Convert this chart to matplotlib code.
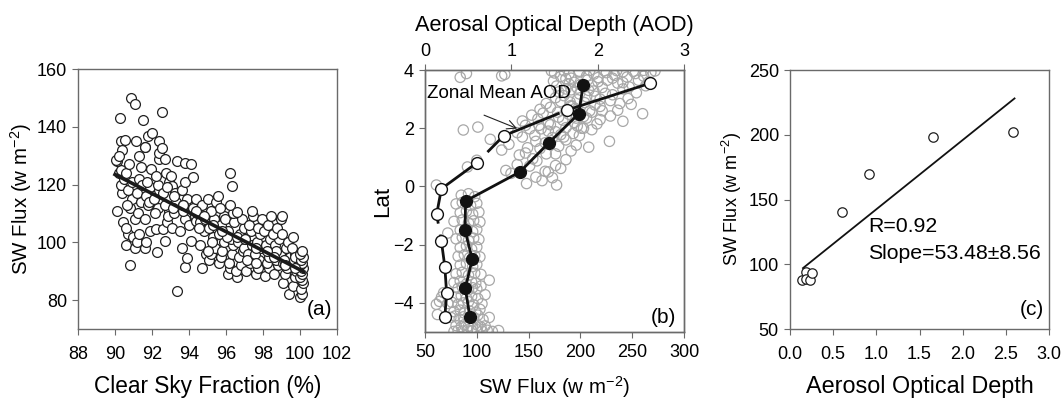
import numpy as np
import matplotlib
matplotlib.use("Agg")
import matplotlib.pyplot as plt

plt.rcParams['font.family'] = ['Liberation Sans', 'DejaVu Sans']
plt.rcParams['mathtext.default'] = 'regular'

# ---- panel (a): SW flux vs clear sky fraction ----
clear_sky = [
    90.1, 90.2, 90.3, 90.1, 90.05, 90.4, 90.3, 90.5, 90.3, 90.25, 90.4, 90.45, 90.2,
    90.6, 90.7, 90.6, 90.8, 90.8, 90.9, 90.7, 90.9, 90.6, 90.75, 90.55, 90.85, 90.95, 90.65,
    91.1, 91.2, 91.3, 91.1, 91.4, 91.2, 91.3, 91.4, 91.3, 91.6, 91.15, 91.1, 91.5, 91.25, 91.45,
    91.6, 91.7, 91.9, 91.6, 91.8, 91.7, 91.9, 91.75, 91.95, 91.6, 91.8, 92.0, 91.85,
    92.25, 92.2, 92.3, 92.1, 92.4, 92.3, 92.2, 92.4, 92.35, 92.4, 92.15,
    92.7, 92.6, 92.8, 92.9, 92.7, 92.6, 92.9, 92.75, 92.7, 92.55, 92.55, 92.85,
    93.1, 93.2, 93.3, 93.1, 93.0, 93.35, 93.35, 93.25, 93.15,
    93.6, 93.5, 93.8, 93.7, 93.9, 93.6, 93.8, 93.8, 93.8, 93.9, 93.65,
    94.1, 94.0, 94.3, 94.2, 94.4, 94.2, 94.1, 94.35, 94.45,
    94.7, 94.9, 94.6, 94.8, 94.6, 94.9, 94.7, 95.0, 94.55, 94.85,
    95.1, 95.2, 95.4, 95.3, 95.1, 95.35, 95.2, 95.45, 95.25, 95.05,
    95.6, 95.7, 95.8, 95.9, 95.6, 95.75, 95.9, 95.65, 95.55, 96.2, 95.95,
    96.1, 96.2, 96.15, 96.3, 96.4, 96.25, 96.1, 96.45, 96.35, 96.2, 96.3, 96.05,
    96.6, 96.55, 96.8, 96.7, 96.9, 96.65, 96.75, 96.95, 96.85, 96.6, 96.95,
    97.1, 97.3, 97.2, 97.4, 97.05, 97.35, 97.25, 97.45, 97.4, 97.15,
    97.6, 97.7, 97.8, 97.55, 97.9, 97.65, 97.85, 97.75, 97.95, 97.6,
    98.1, 98.3, 98.2, 98.4, 98.15, 98.35, 98.05, 98.25, 98.45, 98.3,
    98.6, 98.8, 98.7, 98.9, 98.65, 98.85, 98.55, 98.75, 98.95, 98.7,
    99.4, 99.1, 99.2, 99.3, 99.1, 99.45, 99.25, 99.35, 99.0, 99.05, 99.15,
    99.6, 99.7, 99.8, 99.9, 99.65, 99.75, 99.55, 99.6, 99.95, 99.7,
    100.0, 100.1, 100.05, 100.15, 100.1, 100.0, 100.1, 100.05, 100.15, 100.0, 100.1, 100.05, 100.15, 100.0, 100.1,
    94.4, 94.8, 95.3, 95.8, 96.6, 97.0, 97.6, 98.2, 98.6, 99.2, 99.7, 93.2, 93.7, 92.8,
]
sw_a = [
    111, 124, 125, 128, 128.5, 117, 120, 122, 135, 143, 132, 107, 130,
    99, 103, 105, 92, 112, 115, 118, 121, 124, 127, 135.5, 150, 102, 113,
    98, 100, 103, 108, 114, 117, 122, 126, 130, 133, 135, 148, 142.5, 110, 120,
    98, 100, 104, 108, 113, 116, 119, 121, 125.5, 133, 137, 138, 114,
    96.5, 104.5, 112, 115, 118, 120, 123, 129, 131, 135, 110,
    100.5, 104.5, 107, 111, 113, 117, 121, 124, 129, 132.5, 145, 109,
    105, 110, 114, 119.5, 123, 128, 83, 117, 112,
    98, 104, 108, 111, 115, 118, 121, 127.5, 91.5, 94.5, 113,
    100.5, 106, 109, 112, 115, 122.5, 127, 107.5, 110,
    91, 96, 99, 104, 107, 110, 113, 115, 105, 108,
    94, 96, 98, 102, 105, 108, 111, 114, 100, 97,
    93, 95, 97, 100, 103, 106, 109, 112, 116, 124, 108,
    89, 91, 93, 96, 99, 101, 104, 107, 110, 113, 119.5, 102,
    88, 90, 92, 95, 97, 100, 103, 105, 108, 110.5, 98,
    90, 93, 96, 99, 101, 104, 106, 109, 111, 94,
    89, 91, 94, 96, 98, 100, 103, 105, 108, 93,
    88.5, 91, 93, 96, 99, 101, 104, 106, 109, 95,
    89, 92, 94, 96, 99, 101, 103, 105, 108, 97,
    82, 86, 89, 91, 93, 95, 98, 100, 103, 109, 94,
    85, 88, 90, 92, 94, 96, 98, 102, 93, 95,
    81, 82, 84, 86, 87, 88, 89, 90, 91, 92, 93, 94, 95, 96, 97,
    111, 109, 106, 104, 102, 101, 98, 97, 95, 92, 91, 116, 113, 119,
]
fit_a_x = [90.0, 100.2]
fit_a_slope = -3.3
fit_a_at90 = 123.5

# ---- panel (b): latitude profiles ----
gray_sw = [
    78, 82, 86, 91, 95, 100, 105, 110, 115, 121,
    80, 85, 88, 92, 96, 101, 104, 108,
    61, 66, 75, 79, 83, 87, 97, 101, 106, 112,
    64, 78, 84, 88, 93, 99, 103,
    62, 72, 76, 82, 87, 92, 97, 105,
    68, 80, 85, 90, 95, 101, 108,
    82, 86, 92, 96, 100, 104,
    78, 84, 90, 95, 99, 112,
    80, 86, 92, 98, 104,
    84, 90, 96, 100,
    82, 88, 93, 98, 103,
    84, 90, 95, 100,
    72, 80, 86, 92, 97, 102,
    84, 90, 96, 100,
    78, 86, 92, 97, 103,
    84, 90, 96, 102,
    80, 86, 94, 100,
    85, 92, 98, 61,
    148, 173, 163, 177,
    133, 157, 169,
    91, 128, 151, 166, 181,
    100, 139, 158, 176,
    141, 154, 167, 186,
    124, 147, 161, 176, 191, 208,
    131, 149, 166, 179, 196, 228,
    113, 144, 157, 173, 186, 199,
    139, 156, 169, 181, 193, 211,
    87, 151, 176, 201,
    101, 147, 162, 171, 186, 197, 216,
    144, 159, 169, 183, 194, 206, 219, 241,
    153, 164, 179, 189, 203, 211, 229, 260,
    161, 171, 186, 195, 209, 219, 236,
    167, 181, 191, 204, 214, 229, 249,
    176, 184, 197, 206, 219, 231, 246,
    179, 191, 199, 213, 224, 241, 254,
    177, 189, 197, 211, 221, 236, 247, 263,
    174, 186, 194, 207, 217, 231, 241, 256, 266,
    84, 124, 181, 191, 206, 217, 233, 245, 261,
    90, 127, 175, 189, 199, 213, 225, 241, 253, 268,
    172, 184, 199, 209, 223, 235, 251, 261, 272,
    160, 178, 190, 184, 196, 203, 214, 192, 208, 221, 200, 186, 226, 238,
]
gray_lat = [
    -4.98, -4.95, -4.97, -4.93, -4.96, -4.92, -4.97, -4.94, -4.98, -4.95,
    -4.78, -4.82, -4.75, -4.8, -4.85, -4.77, -4.83, -4.79,
    -4.05, -3.8, -4.5, -4.45, -4.55, -4.48, -4.52, -4.42, -4.57, -4.5,
    -3.95, -4.3, -4.25, -4.35, -4.28, -4.32, -4.22,
    -4.4, -4.02, -3.98, -4.05, -4.0, -3.96, -4.07, -4.03,
    -3.65, -3.8, -3.75, -3.83, -3.78, -3.85, -3.72,
    -3.5, -3.45, -3.55, -3.48, -3.52, -3.42,
    -3.3, -3.25, -3.35, -3.28, -3.32, -3.22,
    -3.0, -2.95, -3.05, -2.98, -3.02,
    -2.7, -2.65, -2.75, -2.68,
    -2.4, -2.35, -2.45, -2.38, -2.42,
    -2.1, -2.05, -2.15, -2.08,
    -1.6, -1.8, -1.75, -1.85, -1.78, -1.82,
    -1.5, -1.45, -1.55, -1.48,
    -1.2, -1.15, -1.25, -1.18, -1.22,
    -0.9, -0.85, -0.95, -0.88,
    -0.6, -0.55, -0.65, -0.58,
    -0.3, -0.25, -0.35, 0.05,
    0.1, 0.3, 0.2, 0.05,
    0.45, 0.32, 0.5,
    0.67, 0.55, 0.7, 0.52, 0.62,
    0.9, 0.75, 0.88, 0.72,
    1.08, 0.95, 1.12, 0.92,
    1.25, 1.15, 1.3, 1.12, 1.22, 1.35,
    1.45, 1.33, 1.5, 1.38, 1.42, 1.55,
    1.62, 1.7, 1.55, 1.68, 1.6, 1.75,
    1.85, 1.75, 1.9, 1.78, 1.82, 1.95,
    1.94, 1.98, 1.88, 2.0,
    2.04, 2.1, 1.98, 2.12, 2.02, 2.08, 2.15,
    2.25, 2.32, 2.18, 2.28, 2.2, 2.35, 2.3, 2.24,
    2.45, 2.52, 2.38, 2.48, 2.4, 2.55, 2.42, 2.5,
    2.65, 2.72, 2.58, 2.68, 2.6, 2.75, 2.62,
    2.85, 2.92, 2.78, 2.88, 2.8, 2.95, 2.82,
    3.05, 3.12, 2.98, 3.08, 3.0, 3.15, 3.02,
    3.25, 3.32, 3.18, 3.28, 3.2, 3.35, 3.22,
    3.45, 3.52, 3.38, 3.48, 3.4, 3.55, 3.42, 3.46,
    3.62, 3.7, 3.58, 3.66, 3.6, 3.72, 3.57, 3.65, 3.6,
    3.75, 3.8, 3.78, 3.72, 3.8, 3.74, 3.82, 3.76, 3.79,
    3.88, 3.85, 3.9, 3.87, 3.93, 3.86, 3.91, 3.94, 3.88, 3.92,
    3.97, 3.98, 3.96, 3.99, 3.97, 3.98, 3.96, 3.99, 3.97,
    2.1, 2.55, 2.9, 1.7, 2.35, 2.0, 3.1, 2.75, 3.3, 2.6, 3.5, 3.35, 3.65, 2.85,
]
lat_sw = [-4.5, -3.5, -2.5, -1.5, -0.5, 0.5, 1.5, 2.5, 3.5]
sw_mean = [93.4, 88.9, 95.6, 88.6, 89.2, 141.6, 169.5, 198.5, 202.6]
lat_aod = [-4.5, -3.65, -2.76, -1.88, -0.96, -0.08, 0.81, 1.74, 2.63, 3.54]
aod_mean = [0.23, 0.25, 0.23, 0.19, 0.135, 0.19, 0.60, 0.91, 1.65, 2.60]

# ---- panel (c): SW flux vs AOD ----
aod_c = [0.135, 0.19, 0.19, 0.23, 0.26, 0.60, 0.92, 1.65, 2.58]
sw_c = [88, 94, 88.6, 88, 93, 140.7, 169.5, 198, 202]
fit_c_x = [0.15, 2.6]
fit_c_slope = 53.48
fit_c_icpt = 89.0

spine_col = '#6a6a6a'
tick_fs = 13


def style(ax, xpad=8):
    for s in ax.spines.values():
        s.set_color(spine_col)
        s.set_linewidth(1.0)
    ax.tick_params(direction='out', length=4, width=0.8, color=spine_col,
                   labelsize=tick_fs)
    ax.tick_params(axis='y', pad=4)
    ax.tick_params(axis='x', pad=xpad)


fig = plt.figure(figsize=(10.63, 4.03), dpi=100)

# (a)
ax_a = fig.add_axes([0.0734, 0.1836, 0.2437, 0.645])
ax_a.scatter(clear_sky, sw_a, s=50, facecolors='white', edgecolors='#202020',
             linewidths=0.9, zorder=2)
xf = np.array(fit_a_x)
ax_a.plot(xf, fit_a_at90 + fit_a_slope * (xf - 90), color='#1a1a1a', lw=2.6, zorder=3)
ax_a.set_xlim(88, 102)
ax_a.set_ylim(70, 160)
ax_a.set_xticks(range(88, 103, 2))
ax_a.set_yticks(range(80, 161, 20))
ax_a.set_xlabel('Clear Sky Fraction (%)', fontsize=16.3, labelpad=9)
ax_a.set_ylabel('SW Flux (w m$^{-2}$)', fontsize=14.8, labelpad=2)
ax_a.text(0.98, 0.04, '(a)', transform=ax_a.transAxes, ha='right', va='bottom', fontsize=15)
style(ax_a)

# (b)
ax_b = fig.add_axes([0.3998, 0.1762, 0.2437, 0.650])
ax_b.scatter(gray_sw, gray_lat, s=55, facecolors='none', edgecolors='#a8a8a8',
             linewidths=0.9, zorder=1)
ax_b.plot(sw_mean, lat_sw, color='#111111', lw=2.0, marker='o', ms=8.5,
          mfc='#111111', mec='#111111', zorder=3)
ax_b.set_xlim(50, 300)
ax_b.set_ylim(-5, 4)
ax_b.set_xticks(range(50, 301, 50))
ax_b.set_yticks(range(-4, 5, 2))
ax_b.set_xlabel('SW Flux (w m$^{-2}$)', fontsize=14.8, labelpad=9)
ax_b.set_ylabel('Lat', fontsize=16, labelpad=0)
ax_b.text(0.97, 0.02, '(b)', transform=ax_b.transAxes, ha='right', va='bottom', fontsize=15)
ax_b.text(52, 3.19, 'Zonal Mean AOD', fontsize=13.5, ha='left', va='center', zorder=5)
ax_b.annotate('', xy=(139, 1.99), xytext=(107, 2.45),
              arrowprops=dict(arrowstyle='->', lw=0.8, color='#222222',
                              mutation_scale=16, shrinkA=0, shrinkB=0))
style(ax_b, xpad=5)

ax_t = ax_b.twiny()
ax_t.plot(aod_mean, lat_aod, color='#111111', lw=2.0, dashes=(30, 4), zorder=3)
ax_t.plot(aod_mean, lat_aod, ls='none', marker='o', ms=8.5, mfc='white',
          mec='#111111', mew=1.0, zorder=4)
ax_t.set_xlim(0, 3)
ax_t.set_xticks([0, 1, 2, 3])
ax_t.set_xlabel('Aerosal Optical Depth (AOD)', fontsize=15.7, labelpad=9)
style(ax_t, xpad=3)

# (c)
ax_c = fig.add_axes([0.7432, 0.1836, 0.2437, 0.6427])
ax_c.scatter(aod_c, sw_c, s=46, facecolors='white', edgecolors='#202020',
             linewidths=0.9, zorder=2)
xc = np.array(fit_c_x)
ax_c.plot(xc, fit_c_icpt + fit_c_slope * xc, color='#111111', lw=1.3, zorder=3)
ax_c.set_xlim(0, 3)
ax_c.set_ylim(50, 250)
ax_c.set_xticks(np.arange(0, 3.01, 0.5))
ax_c.set_xticklabels([f'{v:.1f}' for v in np.arange(0, 3.01, 0.5)])
ax_c.set_yticks(range(50, 251, 50))
ax_c.set_xlabel('Aerosol Optical Depth', fontsize=16.8, labelpad=9)
ax_c.set_ylabel('SW Flux (w m$^{-2}$)', fontsize=13, labelpad=3)
ax_c.text(0.906, 129, 'R=0.92', fontsize=15.3, ha='left', va='center')
ax_c.text(0.906, 108.6, 'Slope=53.48\u00b18.56', fontsize=15.3, ha='left', va='center')
ax_c.text(0.98, 0.04, '(c)', transform=ax_c.transAxes, ha='right', va='bottom', fontsize=15)
style(ax_c)

fig.savefig('out.png', dpi=100)
